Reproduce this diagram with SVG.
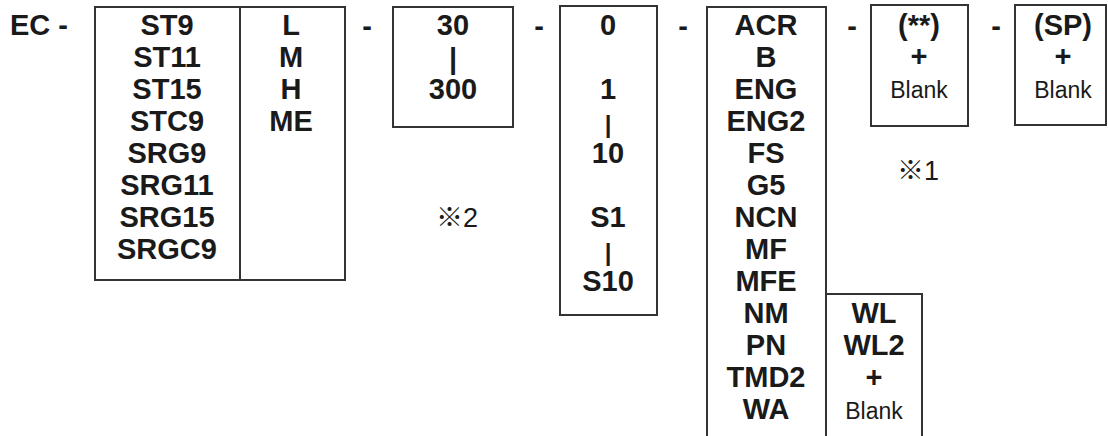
<svg xmlns="http://www.w3.org/2000/svg" width="1108" height="436" viewBox="0 0 1108 436">
<style>
.b{font-family:"Liberation Sans",Arial,sans-serif;font-weight:bold;font-size:29px;fill:#1a1a1a;text-anchor:middle}
.bar{font-family:"Liberation Sans",Arial,sans-serif;font-weight:bold;font-size:24px;fill:#1a1a1a;text-anchor:middle}
.r{font-family:"Liberation Sans",Arial,sans-serif;font-size:23px;fill:#1a1a1a;text-anchor:middle}
.n{font-family:"Liberation Sans","Noto Sans CJK JP",sans-serif;font-size:27px;fill:#1a1a1a;text-anchor:middle}
.box{fill:none;stroke:#333;stroke-width:2}
</style>
<rect width="1108" height="436" fill="#fff"/>
<g id="prefix"><text class="b" x="10" y="35" style="text-anchor:start">EC -</text></g>
<g id="series">
<rect class="box" x="95" y="7" width="250" height="273"/>
<line class="box" x1="240" y1="7" x2="240" y2="280"/>
<text class="b" x="167" y="35">ST9</text>
<text class="b" x="167" y="67">ST11</text>
<text class="b" x="167" y="99">ST15</text>
<text class="b" x="167" y="131">STC9</text>
<text class="b" x="167" y="163">SRG9</text>
<text class="b" x="167" y="195">SRG11</text>
<text class="b" x="167" y="227">SRG15</text>
<text class="b" x="167" y="259">SRGC9</text>
<text class="b" x="291" y="35">L</text>
<text class="b" x="291" y="67">M</text>
<text class="b" x="291" y="99">H</text>
<text class="b" x="291" y="131">ME</text>
</g>
<g id="dashes">
<text class="b" x="367" y="36">-</text>
<text class="b" x="539" y="36">-</text>
<text class="b" x="683" y="36">-</text>
<text class="b" x="852" y="36">-</text>
<text class="b" x="996" y="36">-</text>
</g>
<g id="stroke">
<rect class="box" x="393" y="7" width="120" height="120"/>
<text class="b" x="453" y="35">30</text>
<text class="b" x="453" y="69">|</text>
<text class="b" x="453" y="99">300</text>
<text class="n" x="457" y="227">※2</text>
</g>
<g id="option0">
<rect class="box" x="560" y="6" width="97" height="309"/>
<text class="b" x="608" y="35">0</text>
<text class="b" x="608" y="99">1</text>
<text class="bar" x="608" y="133">|</text>
<text class="b" x="608" y="163">10</text>
<text class="b" x="608" y="227">S1</text>
<text class="bar" x="608" y="261">|</text>
<text class="b" x="608" y="291">S10</text>
</g>
<g id="options">
<rect class="box" x="707" y="7" width="119" height="440"/>
<text class="b" x="766" y="35">ACR</text>
<text class="b" x="766" y="67">B</text>
<text class="b" x="766" y="99">ENG</text>
<text class="b" x="766" y="131">ENG2</text>
<text class="b" x="766" y="163">FS</text>
<text class="b" x="766" y="195">G5</text>
<text class="b" x="766" y="227">NCN</text>
<text class="b" x="766" y="259">MF</text>
<text class="b" x="766" y="291">MFE</text>
<text class="b" x="766" y="323">NM</text>
<text class="b" x="766" y="355">PN</text>
<text class="b" x="766" y="387">TMD2</text>
<text class="b" x="766" y="419">WA</text>
</g>
<g id="wl">
<rect class="box" x="826" y="294" width="96" height="160"/>
<text class="b" x="874" y="323">WL</text>
<text class="b" x="874" y="355">WL2</text>
<text class="b" x="874" y="387">+</text>
<text class="r" x="874" y="419">Blank</text>
</g>
<g id="special">
<rect class="box" x="871" y="5" width="97" height="121"/>
<text class="b" x="919" y="35">(**)</text>
<text class="b" x="919" y="66">+</text>
<text class="r" x="919" y="98">Blank</text>
<text class="n" x="918" y="180">※1</text>
</g>
<g id="sp">
<rect class="box" x="1015" y="5" width="91" height="120"/>
<text class="b" x="1063" y="35">(SP)</text>
<text class="b" x="1063" y="66">+</text>
<text class="r" x="1063" y="98">Blank</text>
</g>
</svg>
